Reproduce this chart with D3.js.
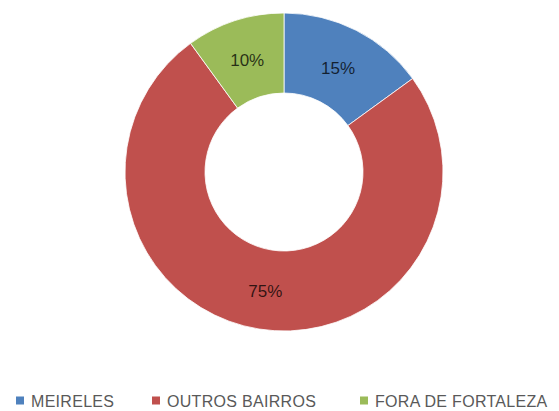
<!DOCTYPE html>
<html>
<head>
<meta charset="utf-8">
<script src="https://cdn.jsdelivr.net/npm/d3@7"></script>
<style>
  body { margin: 0; background: #fff; }
  svg { display: block; }
</style>
</head>
<body>
<div id="chart"></div>
<script>
// chart data
const categories = ['MEIRELES', 'OUTROS BAIRROS', 'FORA DE FORTALEZA'];
const values = [15, 75, 10];
const colors = ['#4F81BD', '#C0504D', '#9BBB59'];

const width = 559;
const height = 411;
const cx = 284, cy = 172;
const outerR = 159, innerR = 79;

const svg = d3.select('#chart')
  .append('svg')
  .attr('width', width)
  .attr('height', height);

const pie = d3.pie().sort(null).value((d) => d.value);
const arc = d3.arc().innerRadius(innerR).outerRadius(outerR);

const data = categories.map((c, i) => ({ name: c, value: values[i], color: colors[i] }));
const arcs = pie(data);
const total = d3.sum(values);

const g = svg.append('g').attr('transform', `translate(${cx},${cy})`);

g.selectAll('path')
  .data(arcs)
  .enter()
  .append('path')
  .attr('d', arc)
  .attr('fill', (d) => d.data.color)
  .attr('stroke', '#fff')
  .attr('stroke-width', 0.8);

// percent labels at the ring centroid
g.selectAll('text')
  .data(arcs)
  .enter()
  .append('text')
  .attr('transform', (d) => `translate(${arc.centroid(d)})`)
  .attr('dy', '0.45em')
  .attr('text-anchor', 'middle')
  .style('font-family', 'Liberation Sans, Arial, sans-serif')
  .style('font-size', '17px')
  .attr('fill', '#000')
  .attr('fill-opacity', 0.75)
  .text((d) => Math.round(d.data.value / total * 100) + '%');

// legend
const legendX = [16, 152, 360];
const legend = svg.append('g').attr('transform', 'translate(0,401)');

const item = legend.selectAll('g')
  .data(data)
  .enter()
  .append('g')
  .attr('transform', (d, i) => `translate(${legendX[i]},0)`);

item.append('rect')
  .attr('x', 0)
  .attr('y', -4.5)
  .attr('width', 8)
  .attr('height', 8)
  .attr('fill', (d) => d.color);

item.append('text')
  .attr('x', 15)
  .attr('dy', '0.36em')
  .style('font-family', 'Liberation Sans, Arial, sans-serif')
  .style('font-size', '16px')
  .style('letter-spacing', '0.3px')
  .attr('fill', '#595959')
  .text((d) => d.name);
</script>
</body>
</html>
